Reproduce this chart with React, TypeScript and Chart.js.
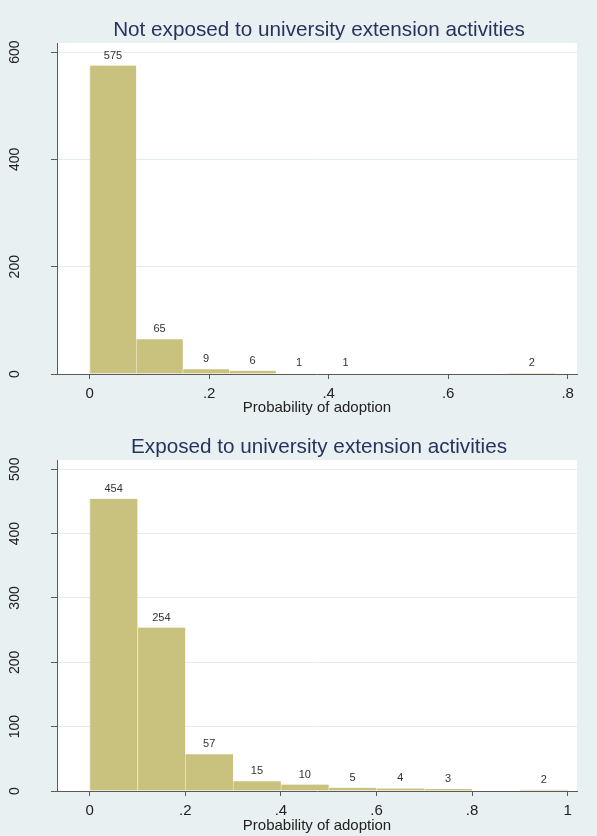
import React, { useEffect, useRef } from "react";
import { Chart, registerables } from "chart.js";

Chart.register(...registerables);

// ---------- data ----------
const topTitle = "Not exposed to university extension activities";
const bottomTitle = "Exposed to university extension activities";
const xAxisTitle = "Probability of adoption";

// top panel: 10 bins of width ~0.0779 (0 .. 0.779)
const topBinCenters = [0.03895, 0.11685, 0.19475, 0.27265, 0.35055, 0.42845, 0.50635, 0.58425, 0.66215, 0.74005];
const topCounts = [575, 65, 9, 6, 1, 1, 0, 0, 0, 2];
const topXTicks = [0, 0.2, 0.4, 0.6, 0.8];
const topYTicks = [0, 200, 400, 600];

// bottom panel: 10 bins of width 0.1 (0 .. 1)
const bottomBinCenters = [0.05, 0.15, 0.25, 0.35, 0.45, 0.55, 0.65, 0.75, 0.85, 0.95];
const bottomCounts = [454, 254, 57, 15, 10, 5, 4, 3, 0, 2];
const bottomXTicks = [0, 0.2, 0.4, 0.6, 0.8, 1];
const bottomYTicks = [0, 100, 200, 300, 400, 500];

// ---------- style ----------
const FONT = '"Liberation Sans", Arial, Helvetica, sans-serif';
const BG = "#e8f0f2";
const PLOT_BG = "#ffffff";
const BAR = "#c9c17e";
const BAR_EDGE = "#e4e0bc";
const AXIS = "#5a5a5a";
const GRID = "#e4ecee";
const TITLE_COLOR = "#27335f";
const TEXT = "#222222";

Chart.defaults.font.family = FONT;

const fmtTick = (v: number) => {
  if (v === 0) return "0";
  if (v === 1) return "1";
  return String(v).replace(/^0\./, ".");
};

type HistProps = {
  title: string;
  centers: number[];
  counts: number[];
  xTicks: number[];
  yTicks: number[];
  xMin: number;
  xMax: number;
  yMax: number;
  areaTop: number;
  xAxisHeight: number;
};

function Histogram(props: HistProps) {
  const ref = useRef<HTMLCanvasElement | null>(null);

  useEffect(() => {
    const canvas = ref.current;
    if (!canvas) return;

    const bgPlugin = {
      id: "bgPlugin",
      beforeDraw(chart: any) {
        const { ctx, chartArea } = chart;
        ctx.save();
        ctx.fillStyle = BG;
        ctx.fillRect(0, 0, chart.width, chart.height);
        ctx.fillStyle = PLOT_BG;
        ctx.fillRect(chartArea.left, chartArea.top, chartArea.right - chartArea.left, chartArea.bottom - chartArea.top);
        ctx.restore();
      },
    };

    const titlePlugin = {
      id: "titlePlugin",
      afterDraw(chart: any) {
        const { ctx, chartArea } = chart;
        ctx.save();
        ctx.font = `20.7px ${FONT}`;
        ctx.fillStyle = TITLE_COLOR;
        ctx.textAlign = "center";
        ctx.textBaseline = "alphabetic";
        ctx.fillText(props.title, 319, chartArea.top - 7.3);
        ctx.restore();
      },
    };

    const labelPlugin = {
      id: "labelPlugin",
      afterDatasetsDraw(chart: any) {
        const { ctx } = chart;
        const meta = chart.getDatasetMeta(0);
        ctx.save();
        ctx.font = `11px ${FONT}`;
        ctx.fillStyle = "#333333";
        ctx.textAlign = "center";
        ctx.textBaseline = "middle";
        meta.data.forEach((el: any, i: number) => {
          const v = props.counts[i];
          if (!v) return;
          ctx.fillText(String(v), el.x, el.y - 10);
        });
        ctx.restore();
      },
    };

    const chart = new Chart(canvas, {
      type: "bar",
      data: {
        datasets: [
          {
            data: props.centers.map((c, i) => ({ x: c, y: props.counts[i] })),
            backgroundColor: BAR,
            borderColor: BAR_EDGE,
            borderWidth: { left: 1, right: 0, top: 0, bottom: 0 },
            borderSkipped: false,
            barPercentage: 1,
            categoryPercentage: 1,
          } as any,
        ],
      },
      options: {
        animation: false,
        responsive: false,
        devicePixelRatio: 1,
        layout: { padding: { top: props.areaTop, right: 20, bottom: 0, left: 0 } },
        plugins: {
          legend: { display: false },
          tooltip: { enabled: false },
          title: { display: false },
        },
        scales: {
          x: {
            type: "linear",
            min: props.xMin,
            max: props.xMax,
            offset: false,
            grid: {
              offset: false,
              drawOnChartArea: false,
              drawTicks: true,
              tickLength: 5,
              tickColor: AXIS,
              color: AXIS,
            },
            border: { display: true, color: AXIS, width: 1 },
            ticks: {
              autoSkip: false,
              maxRotation: 0,
              minRotation: 0,
              padding: 6,
              color: TEXT,
              font: { size: 15, family: FONT },
              callback: (v: any) => fmtTick(Number(v)),
            },
            afterBuildTicks: (s: any) => {
              s.ticks = props.xTicks.map((v) => ({ value: v }));
            },
            afterFit: (s: any) => {
              s.height = props.xAxisHeight;
            },
            title: {
              display: true,
              text: xAxisTitle,
              color: TEXT,
              font: { size: 15, family: FONT },
              padding: { top: 0, bottom: 1 },
            },
          },
          y: {
            type: "linear",
            min: 0,
            max: props.yMax,
            grid: {
              color: GRID,
              lineWidth: 1,
              drawTicks: true,
              tickLength: 6,
              tickColor: AXIS,
            },
            border: { display: true, color: AXIS, width: 1 },
            ticks: {
              autoSkip: false,
              minRotation: 90,
              maxRotation: 90,
              crossAlign: "center",
              padding: 24,
              color: TEXT,
              font: { size: 14, family: FONT },
              callback: (v: any) => String(v),
            },
            afterBuildTicks: (s: any) => {
              s.ticks = props.yTicks.map((v) => ({ value: v }));
            },
            afterFit: (s: any) => {
              s.width = 57;
            },
          },
        },
      } as any,
      plugins: [bgPlugin, titlePlugin, labelPlugin],
    });

    return () => chart.destroy();
  }, []);

  return <canvas ref={ref} width={597} height={418} style={{ display: "block", width: 597, height: 418 }} />;
}

export default function App() {
  return (
    <div style={{ position: "absolute", left: 0, top: 0, width: 597, height: 836, background: BG }}>
      <Histogram
        title={topTitle}
        centers={topBinCenters}
        counts={topCounts}
        xTicks={topXTicks}
        yTicks={topYTicks}
        xMin={-0.0547}
        xMax={0.8156}
        yMax={617}
        areaTop={43}
        xAxisHeight={44}
      />
      <Histogram
        title={bottomTitle}
        centers={bottomBinCenters}
        counts={bottomCounts}
        xTicks={bottomXTicks}
        yTicks={bottomYTicks}
        xMin={-0.0684}
        xMax={1.0195}
        yMax={514.4}
        areaTop={42}
        xAxisHeight={45}
      />
    </div>
  );
}
